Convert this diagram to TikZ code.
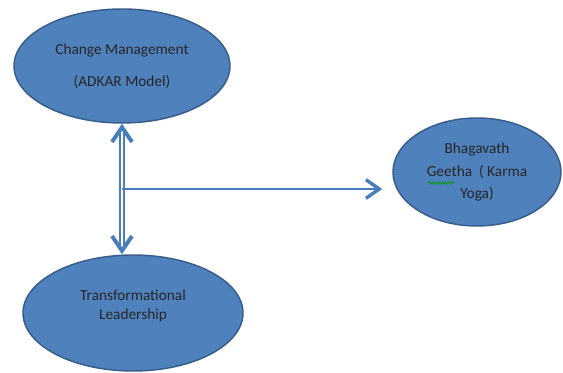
\documentclass[tikz,border=0pt]{standalone}
\usepackage{fontspec}
\setmainfont{Carlito}
\usepackage{tikz}
\usetikzlibrary{shapes.geometric,arrows.meta,decorations.pathmorphing,calc}
\definecolor{ovalblue}{HTML}{4F81BD}
\definecolor{ovalline}{HTML}{385D8A}
\definecolor{arrowblue}{HTML}{4A7EBB}

\begin{document}
\begin{tikzpicture}[x=0.75pt,y=-0.75pt,
		oval/.style={ellipse,draw=ovalline,fill=ovalblue,line width=1.1pt,inner sep=0pt,
			align=center,text=black!85,font=\fontsize{11.5}{14}\selectfont},
		dblarrow/.style={draw=arrowblue,double=white,double distance=1.3pt,line width=1.4pt,
			{Straight Barb[length=11pt,width=15pt,line width=3pt]}-{Straight Barb[length=11pt,width=15pt,line width=3pt]}},
		onearrow/.style={draw=arrowblue,line width=2pt,-{Straight Barb[length=10pt,width=14pt,line width=2.6pt]}}]
		\useasboundingbox (0,0) rectangle (563,373);
		\node[oval,minimum width=162pt,minimum height=85.5pt] (adkar) at (122,66)
			{Change Management\\[10pt](ADKAR Model)};
		\node[oval,minimum width=126pt,minimum height=81pt] (geetha) at (477,172)
			{Bhagavath\\[3pt]Geetha\ \ ( Karma\\[3pt]Yoga)};
		\node[oval,minimum width=165pt,minimum height=87pt] (leader) at (133,313)
			{Transformational\\Leadership\\[-2pt]};
		% links
		\draw[dblarrow] (adkar.south) -- (adkar.south |- leader.north);
		\coordinate (fork) at ($(adkar.south)!0.5!(adkar.south |- leader.north)$);
		\draw[onearrow,shorten >=7.5pt] (fork) -- (fork -| geetha.west);
		% spell check mark
		\draw[green!60!black,line width=0.5pt,decorate,
			decoration={snake,amplitude=1pt,segment length=2.5pt}] (428,183) -- (455,183);
	\end{tikzpicture}
\end{document}
